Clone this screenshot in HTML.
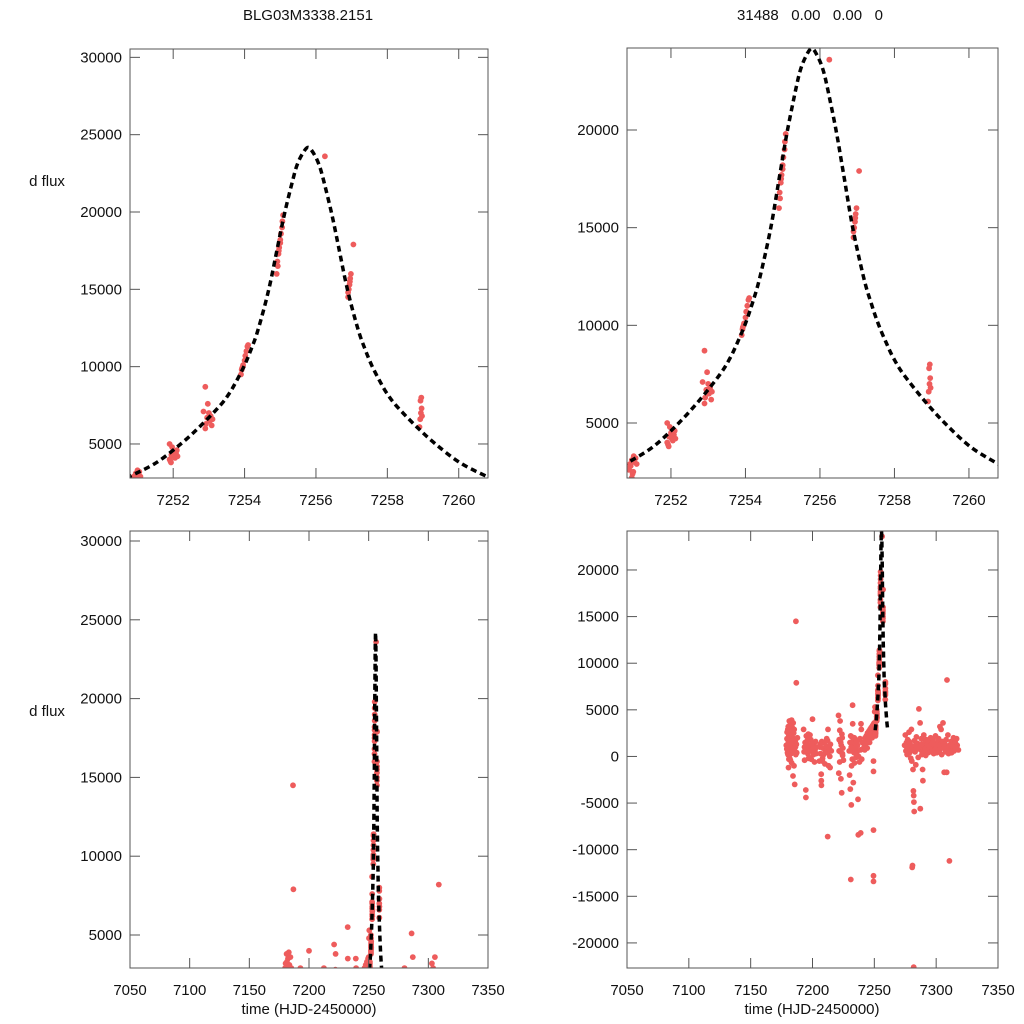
<!DOCTYPE html>
<html><head><meta charset="utf-8">
<style>
html,body{margin:0;padding:0;background:#fff;width:1024px;height:1024px;overflow:hidden;}
svg{display:block;overflow:hidden;font-family:"Liberation Sans",Arial,sans-serif;}
</style></head>
<body>
<svg id="fig" width="1024" height="1024" viewBox="0 0 1024 1024">
<text x="308" y="20" font-size="15" text-anchor="middle" fill="#111">BLG03M3338.2151</text>
<text x="810" y="20" font-size="15" text-anchor="middle" fill="#111" xml:space="preserve">31488   0.00   0.00   0</text>
<text x="47" y="186" font-size="15" text-anchor="middle" fill="#111">d flux</text>
<text x="47" y="716" font-size="15" text-anchor="middle" fill="#111">d flux</text>
<text x="309" y="1014" font-size="15" text-anchor="middle" fill="#111">time (HJD-2450000)</text>
<text x="812" y="1014" font-size="15" text-anchor="middle" fill="#111">time (HJD-2450000)</text>
</svg>
<script>
// model curve: offsets from peak (days) and flux
const modelT0 = 7255.78;
const modelDt = [0,0.15,0.3,0.43,0.65,0.85,1.1,1.4,1.6,1.78,2.0,2.2,2.46,3.0,3.57,4.28,5.1];
const modelFlux = [24180,23800,23100,22070,20000,17800,15000,12400,11100,10100,9100,8300,7500,6200,5000,3750,2800];

// event photometry (time, flux)
const eventData = [
[7250.88,2600],[7250.9,2900],[7250.95,3100],[7250.92,2800],[7251.0,3300],[7250.97,2400],[7251.02,3000],[7250.86,2700],[7251.05,3200],[7250.99,2500],[7250.95,2200],[7251.08,2900],
[7251.9,4000],[7251.95,4300],[7251.92,3900],[7252.0,4500],[7252.02,4200],[7251.97,4800],[7251.9,5000],[7252.05,4100],[7252.08,4400],[7251.94,3800],[7252.1,4600],[7252.12,4200],
[7252.9,6000],[7252.92,6300],[7252.95,6700],[7253.0,7000],[7253.02,6500],[7252.9,8700],[7252.97,7600],[7253.08,6200],[7253.05,6800],[7253.1,6600],[7252.85,7100],
[7253.9,9500],[7253.92,9800],[7253.96,10100],[7254.0,10400],[7254.02,10700],[7254.05,11000],[7254.08,11300],[7254.1,11400],[7253.95,10000],[7253.93,9900],
[7254.9,16000],[7254.92,16800],[7254.95,17300],[7254.97,17700],[7255.0,18200],[7255.02,18600],[7255.05,19000],[7255.06,19400],[7255.08,19800],[7254.96,17500],[7255.0,18000],[7254.93,16500],
[7256.25,23600],
[7256.9,14500],[7256.92,15000],[7256.94,15300],[7256.96,15700],[7256.98,16000],[7257.05,17900],[7256.95,15500],[7256.9,14800],
[7258.9,6100],[7258.92,6600],[7258.94,7000],[7258.96,7300],[7258.95,8000],[7258.93,7800],[7258.97,6800]
];

// baseline photometry (time, flux)
const baselineData = [
[7178.8,1200],[7179.2,800],[7179.5,2600],[7179.8,400],[7180.1,1800],[7180.4,3200],[7180.6,-1200],[7180.8,2200],[7181.0,600],[7181.2,3800],[7181.4,1500],[7181.6,-200],[7181.8,2900],[7182.0,1000],[7182.2,2400],[7182.4,3500],[7182.6,300],[7182.8,1900],[7183.0,2700],[7183.2,-700],[7183.4,1400],[7183.6,3100],[7183.8,500],[7184.0,2000],[7184.2,-2100],[7184.5,1100],[7184.8,2500],[7185.0,-1000],[7185.3,800],[7185.6,-3000],[7186.0,1600],[7186.5,200],[7187.0,1300],[7179.6,900],[7180.9,-300],[7181.5,3300],[7182.5,2100],[7183.5,1100],[7184.4,3600],[7180.2,200],[7181.1,2000],[7182.1,-400],[7183.1,3900],[7184.1,1700],[7185.2,2900],[7186.2,1000],[7187.2,400],[7187.8,2000],[7180.0,2900],[7182.9,900],[7181.3,1200],[7182.3,1600],[7183.3,2300],[7184.3,600],[7180.5,1500],[7179.4,1900],
[7186.6,14500],[7186.9,7900],
[7192.8,2900],[7193.2,500],[7193.6,-400],[7194.0,1500],[7194.6,-3600],[7194.7,-4400],[7195.0,2200],[7195.4,800],[7195.8,1700],[7196.2,300],[7196.6,2400],[7197.0,-200],[7197.4,1100],[7197.8,1800],[7198.2,600],[7198.6,1800],[7199.0,-300],[7199.4,900],[7200.0,4000],[7200.4,1500],[7200.8,200],[7201.2,1200],[7201.6,-600],[7202.0,700],[7202.5,1600],[7203.0,300],[7203.4,1000],[7193.5,1000],[7195.2,600],[7197.2,-100],[7199.2,1300],[7196.0,1200],[7198.0,2300],[7200.2,800],
[7205.6,-500],[7206.0,1000],[7206.5,300],[7207.0,-1900],[7207.1,-2600],[7207.2,-3100],[7207.5,1600],[7208.0,-500],[7208.5,900],[7209.0,200],[7209.5,1500],[7210.0,-800],[7210.5,600],[7211.0,1100],[7211.5,1900],[7212.0,400],[7212.3,-8600],[7212.5,2900],[7213.0,-1000],[7213.5,900],[7214.0,0],[7214.5,1300],[7215.2,600],[7206.2,1300],[7208.2,-200],[7210.2,400],[7212.2,1700],[7214.2,-1200],
[7221.0,4400],[7221.3,-1800],[7221.6,1800],[7222.0,-600],[7222.3,3800],[7222.6,500],[7223.0,-2400],[7223.3,1200],[7223.6,-3900],[7224.0,2000],[7224.3,100],[7224.6,900],[7225.0,-400],[7221.5,600],[7222.8,1500],[7224.2,300],[7222.1,2800],[7223.8,2400],
[7229.7,600],[7230.0,-2000],[7230.3,1500],[7230.6,-3500],[7230.9,2200],[7231.0,-13200],[7231.2,600],[7231.4,-5200],[7231.6,-1000],[7231.9,2100],[7232.2,-300],[7232.4,5500],[7232.5,3500],[7232.7,1200],[7233.0,-2800],[7233.3,1800],[7233.6,400],[7234.0,-700],[7234.4,1400],[7234.8,900],[7235.2,-100],[7235.6,1600],[7236.0,500],[7236.4,1200],[7236.8,-4600],[7237.0,-8400],[7237.3,0],[7237.7,1800],[7238.0,-600],[7238.4,1900],[7238.8,700],[7239.0,-8200],[7239.2,3500],[7239.5,2900],[7239.8,-300],[7240.2,1500],[7240.6,800],[7231.3,1000],[7233.8,2000],[7235.4,300],[7236.2,1700],
[7241.0,800],[7241.5,1500],[7242.0,1100],[7242.5,2000],[7243.0,1300],[7243.5,2200],[7244.0,1600],[7244.5,2500],[7245.0,1900],[7245.5,2700],[7246.0,2200],[7246.5,2900],[7247.0,2400],[7247.5,3100],[7248.0,2800],[7248.5,3300],[7249.0,3000],[7249.3,-500],[7249.3,-1600],[7249.3,-7900],[7249.3,-12800],[7249.3,-13400],[7249.5,3500],[7250.0,3600],[7250.3,4800],[7250.5,5300],[7242.2,700],[7244.2,900],[7246.2,1500],[7248.2,2000],[7250.1,2600],
[7274.5,1200],[7275.0,2300],[7275.5,600],[7276.0,1500],[7276.5,200],[7277.0,1800],[7277.5,900],[7278.0,2600],[7278.5,400],[7279.0,1300],[7279.5,-200],[7280.0,2900],[7280.3,-500],[7280.6,-11900],[7280.9,-11700],[7281.0,1000],[7281.3,-1400],[7281.6,-3700],[7281.8,-4200],[7281.8,-22600],[7282.0,-4900],[7282.2,-5900],[7282.5,1700],[7283.0,500],[7283.5,-900],[7284.0,2100],[7284.5,800],[7285.0,1400],[7285.5,-100],[7286.0,5100],[7286.5,1100],[7287.0,3600],[7287.2,-5600],[7287.5,700],[7288.0,1900],[7288.5,200],[7289.0,-1400],[7289.3,-2600],[7289.5,1200],[7290.0,2300],[7290.5,600],[7291.0,1500],[7291.5,100],[7292.0,1800],[7292.5,900],[7293.0,1300],[7293.5,400],[7294.0,1700],[7294.5,700],[7295.0,1100],[7295.5,2000],[7296.0,500],[7296.5,1400],[7297.0,900],[7297.5,1800],[7298.0,300],[7298.5,1200],[7299.0,700],[7299.5,2200],[7300.0,1000],[7300.5,400],[7301.0,1500],[7301.5,800],[7302.0,1900],[7302.5,600],[7303.0,3200],[7303.5,1300],[7304.0,2900],[7304.5,200],[7305.0,1600],[7305.5,3600],[7306.0,900],[7306.5,-1700],[7307.0,1400],[7307.5,500],[7308.0,1800],[7308.5,-1700],[7308.8,8200],[7309.0,1000],[7309.5,2300],[7310.0,300],[7310.7,-11200],[7311.0,1200],[7311.5,700],[7312.0,1600],[7312.5,400],[7313.0,1300],[7313.5,900],[7314.0,2000],[7314.5,600],[7315.0,1100],[7315.5,1500],[7316.0,800],[7316.5,1900],[7317.0,1200],[7318.0,700],
[7276.2,1000],[7278.2,1600],[7280.2,700],[7283.2,1200],[7285.2,900],[7288.2,1300],[7291.2,800],[7294.2,1100],[7297.2,1500],[7300.2,1200],[7303.2,800],[7306.2,1300],[7309.2,900],[7312.2,1200],[7315.2,1000]
];

const topXTicks = [7252,7254,7256,7258,7260];
const botXTicks = [7050,7100,7150,7200,7250,7300,7350];
const tlYTicks = [5000,10000,15000,20000,25000,30000];
const trYTicks = [5000,10000,15000,20000];
const blYTicks = [5000,10000,15000,20000,25000,30000];
const brYTicks = [-20000,-15000,-10000,-5000,0,5000,10000,15000,20000];

const panels = [
 {id:'top-left', x0:130,x1:488,y0:49,y1:478, xmin:7250.79,xmax:7260.82, ymin:2800,ymax:30540, xt:topXTicks, yt:tlYTicks},
 {id:'top-right', x0:627,x1:998,y0:48,y1:478, xmin:7250.82,xmax:7260.78, ymin:2184,ymax:24198, xt:topXTicks, yt:trYTicks},
 {id:'bottom-left', x0:130,x1:488,y0:531,y1:968, xmin:7050,xmax:7350, ymin:2906,ymax:30635, xt:botXTicks, yt:blYTicks},
 {id:'bottom-right', x0:627,x1:998,y0:531,y1:968, xmin:7050,xmax:7350, ymin:-22690,ymax:24180, xt:botXTicks, yt:brYTicks}
];

const NS='http://www.w3.org/2000/svg';
const svg=document.getElementById('fig');
function mk(tag,attrs,parent){const e=document.createElementNS(NS,tag);for(const k in attrs)e.setAttribute(k,attrs[k]);(parent||svg).appendChild(e);return e;}

const allData = baselineData.concat(eventData);
const modelPts=[];
for(let i=modelDt.length-1;i>0;i--) modelPts.push([modelT0-modelDt[i],modelFlux[i]]);
for(let i=0;i<modelDt.length;i++) modelPts.push([modelT0+modelDt[i],modelFlux[i]]);

function smoothPath(pts){
 let d='M'+pts[0][0].toFixed(1)+' '+pts[0][1].toFixed(1);
 for(let i=0;i<pts.length-1;i++){
  const p0=pts[Math.max(0,i-1)],p1=pts[i],p2=pts[i+1],p3=pts[Math.min(pts.length-1,i+2)];
  const c1=[p1[0]+(p2[0]-p0[0])/6,p1[1]+(p2[1]-p0[1])/6];
  const c2=[p2[0]-(p3[0]-p1[0])/6,p2[1]-(p3[1]-p1[1])/6];
  d+=' C'+c1[0].toFixed(1)+' '+c1[1].toFixed(1)+' '+c2[0].toFixed(1)+' '+c2[1].toFixed(1)+' '+p2[0].toFixed(1)+' '+p2[1].toFixed(1);
 }
 return d;
}

panels.forEach(p=>{
 const sx=t=>p.x0+(t-p.xmin)/(p.xmax-p.xmin)*(p.x1-p.x0);
 const sy=f=>p.y1-(f-p.ymin)/(p.ymax-p.ymin)*(p.y1-p.y0);
 const g=mk('g',{});
 
 
 const cp=mk('clipPath',{id:'clip-'+p.id},g);
 mk('rect',{x:p.x0,y:p.y0,width:p.x1-p.x0,height:p.y1-p.y0},cp);
 const plot=mk('g',{'clip-path':'url(#clip-'+p.id+')'},g);
 
 
 const data = p.id.startsWith('top') ? eventData : allData;
 data.forEach(d=>{
  const c=mk('circle',{cx:sx(d[0]).toFixed(1),cy:sy(d[1]).toFixed(1),r:2.9,fill:'#ee5c5c'},plot);
  
  
 });
 const path=smoothPath(modelPts.map(d=>[sx(d[0]),sy(d[1])]));
 const ln=mk('path',{d:path,fill:'none',stroke:'#000','stroke-width':3.5,'stroke-dasharray':'6 4','stroke-linejoin':'round'},plot);
 
 
 const fr=mk('rect',{x:p.x0,y:p.y0,width:p.x1-p.x0,height:p.y1-p.y0,fill:'none',stroke:'#555','stroke-width':1},g);
 
 
 p.xt.forEach(v=>{
  const x=sx(v);
  mk('line',{x1:x,x2:x,y1:p.y1,y2:p.y1-10,stroke:'#555'},g);
  mk('line',{x1:x,x2:x,y1:p.y0,y2:p.y0+10,stroke:'#555'},g);
  const t=mk('text',{x:x,y:p.y1+27,'font-size':15,'text-anchor':'middle',fill:'#111'},g);
  t.textContent=v;
  
  
 });
 p.yt.forEach(v=>{
  const y=sy(v);
  mk('line',{x1:p.x0,x2:p.x0+10,y1:y,y2:y,stroke:'#555'},g);
  mk('line',{x1:p.x1,x2:p.x1-10,y1:y,y2:y,stroke:'#555'},g);
  const t=mk('text',{x:p.x0-8,y:y+5,'font-size':15,'text-anchor':'end',fill:'#111'},g);
  t.textContent=v;
  
  
 });
});
</script>
</body></html>
